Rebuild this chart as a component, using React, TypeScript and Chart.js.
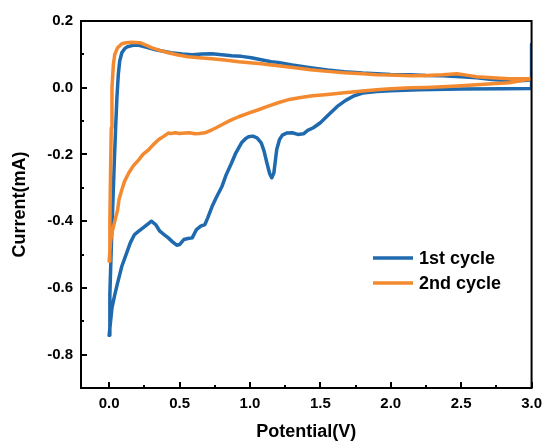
import React, { useEffect, useRef } from "react";
import { Chart, registerables } from "chart.js";

Chart.register(...registerables);

// ---- data ----
const seriesLabels = ["1st cycle", "2nd cycle"];

const cycle1V = [
  3.0, 3.0, 2.8, 2.5, 2.2, 2.0, 1.9, 1.8, 1.74, 1.68, 1.62, 1.56, 1.5, 1.45, 1.41, 1.38, 1.34, 1.3, 1.26, 1.23,
  1.21, 1.19, 1.18, 1.17, 1.155, 1.14, 1.12, 1.1, 1.08, 1.05, 1.02, 0.99, 0.97, 0.94, 0.9, 0.87, 0.83, 0.8, 0.76,
  0.73, 0.7, 0.68, 0.65, 0.62, 0.59, 0.56, 0.53, 0.5, 0.48, 0.45, 0.42, 0.39, 0.36, 0.33, 0.3, 0.27, 0.24, 0.21,
  0.18, 0.15, 0.12, 0.09, 0.06, 0.04, 0.02, 0.01, 0.0,
  0.005, 0.015, 0.025, 0.035, 0.045, 0.055, 0.065, 0.075, 0.09, 0.11, 0.13, 0.17, 0.21, 0.26, 0.33, 0.44, 0.52,
  0.59, 0.66, 0.73, 0.8, 0.87, 0.94, 1.01, 1.08, 1.15, 1.2, 1.3, 1.43, 1.55, 1.67, 1.8, 1.9, 2.0, 2.14, 2.25,
  2.37, 2.5, 2.61, 2.72, 2.84, 2.95, 3.0,
];
const cycle1I = [
  0.13, -0.002, -0.003, -0.004, -0.006, -0.009, -0.011, -0.016, -0.024, -0.038, -0.056, -0.08, -0.105, -0.12,
  -0.128, -0.138, -0.14, -0.135, -0.136, -0.142,
  -0.155, -0.185, -0.22, -0.255, -0.27, -0.258, -0.225, -0.19, -0.165, -0.15, -0.145, -0.147, -0.152, -0.165,
  -0.195, -0.225, -0.262, -0.297, -0.33,
  -0.357, -0.39, -0.41, -0.415, -0.425, -0.45, -0.452, -0.455, -0.47, -0.472, -0.462, -0.45, -0.44, -0.43, -0.41,
  -0.4, -0.41, -0.42, -0.43,
  -0.44, -0.465, -0.5, -0.535, -0.585, -0.62, -0.66, -0.7, -0.742,
  -0.62, -0.48, -0.36, -0.24, -0.13, -0.03, 0.04, 0.08, 0.105, 0.117, 0.123, 0.127, 0.127, 0.122, 0.114, 0.105,
  0.101, 0.099, 0.101, 0.102, 0.099, 0.096, 0.094, 0.09, 0.084, 0.078, 0.076, 0.068, 0.06, 0.053, 0.048, 0.044,
  0.042, 0.04, 0.039, 0.037, 0.036, 0.033, 0.03, 0.025, 0.021, 0.022, 0.024,
];

const cycle2V = [
  3.0, 2.9, 2.84, 2.72, 2.61, 2.5, 2.37, 2.25, 2.14, 2.0, 1.9, 1.8, 1.67, 1.55, 1.43, 1.35, 1.28, 1.2, 1.13, 1.06,
  0.99, 0.92, 0.86, 0.8, 0.76, 0.73, 0.68, 0.64, 0.61, 0.57, 0.54, 0.5, 0.47, 0.44, 0.42, 0.39, 0.35, 0.31, 0.28,
  0.24, 0.21, 0.17, 0.14, 0.11, 0.09, 0.07, 0.06, 0.04, 0.02, 0.01, 0.0,
  0.005, 0.01, 0.015, 0.02, 0.03, 0.04, 0.06, 0.09, 0.12, 0.16, 0.22, 0.26, 0.3, 0.36, 0.42, 0.49, 0.56, 0.64,
  0.73, 0.82, 0.92, 1.0, 1.08, 1.2, 1.32, 1.43, 1.55, 1.67, 1.8, 1.9, 2.0, 2.14, 2.25, 2.37, 2.47, 2.55, 2.61,
  2.72, 2.84, 3.0,
];
const cycle2I = [
  0.027, 0.019, 0.015, 0.012, 0.009, 0.006, 0.003, 0.001, 0.0, -0.003, -0.006, -0.01, -0.015, -0.02, -0.025,
  -0.03, -0.035, -0.045, -0.055, -0.066,
  -0.076, -0.087, -0.098, -0.111, -0.12, -0.126, -0.135, -0.137, -0.138, -0.135, -0.136, -0.137, -0.135, -0.137,
  -0.136, -0.145, -0.156, -0.172, -0.186,
  -0.2, -0.216, -0.235, -0.255, -0.28, -0.306, -0.335, -0.366, -0.4, -0.435, -0.46, -0.52,
  -0.4, -0.25, -0.12, 0.0, 0.07, 0.1, 0.12, 0.132, 0.135, 0.136, 0.135, 0.128, 0.12, 0.112, 0.105, 0.098, 0.093,
  0.09, 0.087, 0.083, 0.078, 0.075, 0.072, 0.066, 0.06, 0.054, 0.049, 0.045, 0.042, 0.039, 0.038, 0.036, 0.037,
  0.039, 0.042, 0.037, 0.033, 0.03, 0.027, 0.027,
];

const xMajorTicks = [0.0, 0.5, 1.0, 1.5, 2.0, 2.5, 3.0];
const xMinorTicks = [0.25, 0.75, 1.25, 1.75, 2.25, 2.75];
const yMajorTicks = [0.2, 0.0, -0.2, -0.4, -0.6, -0.8];
const yMinorTicks = [0.1, -0.1, -0.3, -0.5, -0.7];

const xTitle = "Potential(V)";
const yTitle = "Current(mA)";

const BLUE = "#1f6aae";
const ORANGE = "#f48a30";
const FONT = "'Liberation Sans', Arial, sans-serif";

function zip(xs: number[], ys: number[]) {
  return xs.map((x, i) => ({ x, y: ys[i] }));
}

const framePlugin = {
  id: "frameAndTicks",
  afterDraw(chart: any) {
    const { ctx, chartArea } = chart;
    const xs = chart.scales.x;
    const ys = chart.scales.y;
    const { left, right, top, bottom } = chartArea;
    ctx.save();
    ctx.strokeStyle = "#000";
    ctx.lineWidth = 2;
    ctx.lineCap = "butt";
    // inward ticks
    ctx.beginPath();
    for (const v of xMajorTicks) {
      const px = Math.round(xs.getPixelForValue(v));
      ctx.moveTo(px, bottom);
      ctx.lineTo(px, bottom - 6);
    }
    for (const v of xMinorTicks) {
      const px = Math.round(xs.getPixelForValue(v));
      ctx.moveTo(px, bottom);
      ctx.lineTo(px, bottom - 3);
    }
    for (const v of yMajorTicks) {
      const py = Math.round(ys.getPixelForValue(v));
      ctx.moveTo(left, py);
      ctx.lineTo(left + 6, py);
    }
    for (const v of yMinorTicks) {
      const py = Math.round(ys.getPixelForValue(v));
      ctx.moveTo(left, py);
      ctx.lineTo(left + 3, py);
    }
    ctx.stroke();
    // frame
    ctx.strokeRect(left, top, right - left, bottom - top);

    // legend
    const ds = chart.data.datasets;
    const lx = 373;
    const ly = [258, 283];
    ctx.font = `bold 18px ${FONT}`;
    ctx.textBaseline = "middle";
    ctx.textAlign = "left";
    ds.forEach((d: any, i: number) => {
      ctx.strokeStyle = d.borderColor;
      ctx.lineWidth = 3.5;
      ctx.beginPath();
      ctx.moveTo(lx, ly[i]);
      ctx.lineTo(lx + 40, ly[i]);
      ctx.stroke();
      ctx.fillStyle = "#000";
      ctx.fillText(d.label, lx + 46, ly[i] + 1);
    });
    ctx.restore();
  },
};

export default function App() {
  const ref = useRef<HTMLCanvasElement | null>(null);
  useEffect(() => {
    if (!ref.current) return;
    const chart = new Chart(ref.current, {
      type: "scatter",
      data: {
        datasets: [
          {
            label: seriesLabels[0],
            data: zip(cycle1V, cycle1I),
            showLine: true,
            borderColor: BLUE,
            backgroundColor: BLUE,
            borderWidth: 3.5,
            pointRadius: 0,
            tension: 0,
            borderJoinStyle: "round",
            borderCapStyle: "round",
            order: 1,
          },
          {
            label: seriesLabels[1],
            data: zip(cycle2V, cycle2I),
            showLine: true,
            borderColor: ORANGE,
            backgroundColor: ORANGE,
            borderWidth: 3.5,
            pointRadius: 0,
            tension: 0,
            borderJoinStyle: "round",
            borderCapStyle: "round",
            order: 0,
          },
        ],
      },
      options: {
        responsive: false,
        animation: false,
        layout: { padding: { top: 21, right: 12, left: 0, bottom: 0 } },
        plugins: { legend: { display: false }, tooltip: { enabled: false } },
        scales: {
          x: {
            type: "linear",
            min: -0.2,
            max: 3.0,
            afterBuildTicks: (s: any) => {
              s.ticks = xMajorTicks.map((v) => ({ value: v }));
            },
            afterFit: (s: any) => {
              s.height = 55;
            },
            grid: { display: false, drawTicks: false },
            border: { display: false },
            ticks: {
              color: "#000",
              padding: 7,
              maxRotation: 0,
              autoSkip: false,
              font: { family: FONT, weight: "bold", size: 15 },
              callback: (v: any) => Number(v).toFixed(1),
            },
            title: {
              display: true,
              text: xTitle,
              color: "#000",
              padding: { top: 0, bottom: 0 },
              font: { family: FONT, weight: "bold", size: 18 },
            },
          },
          y: {
            type: "linear",
            min: -0.9,
            max: 0.2,
            afterBuildTicks: (s: any) => {
              s.ticks = yMajorTicks.map((v) => ({ value: v }));
            },
            afterFit: (s: any) => {
              s.width = 81;
            },
            grid: { display: false, drawTicks: false },
            border: { display: false },
            ticks: {
              color: "#000",
              padding: 8,
              autoSkip: false,
              font: { family: FONT, weight: "bold", size: 15 },
              callback: (v: any) => Number(v).toFixed(1),
            },
            title: {
              display: true,
              text: yTitle,
              color: "#000",
              padding: { top: 9, bottom: 0 },
              font: { family: FONT, weight: "bold", size: 18 },
            },
          },
        },
      },
      plugins: [framePlugin],
    } as any);
    return () => chart.destroy();
  }, []);
  return (
    <div style={{ position: "absolute", left: 0, top: 0, width: 549, height: 443, background: "#fff" }}>
      <canvas ref={ref} width={549} height={443} style={{ display: "block" }} />
    </div>
  );
}
